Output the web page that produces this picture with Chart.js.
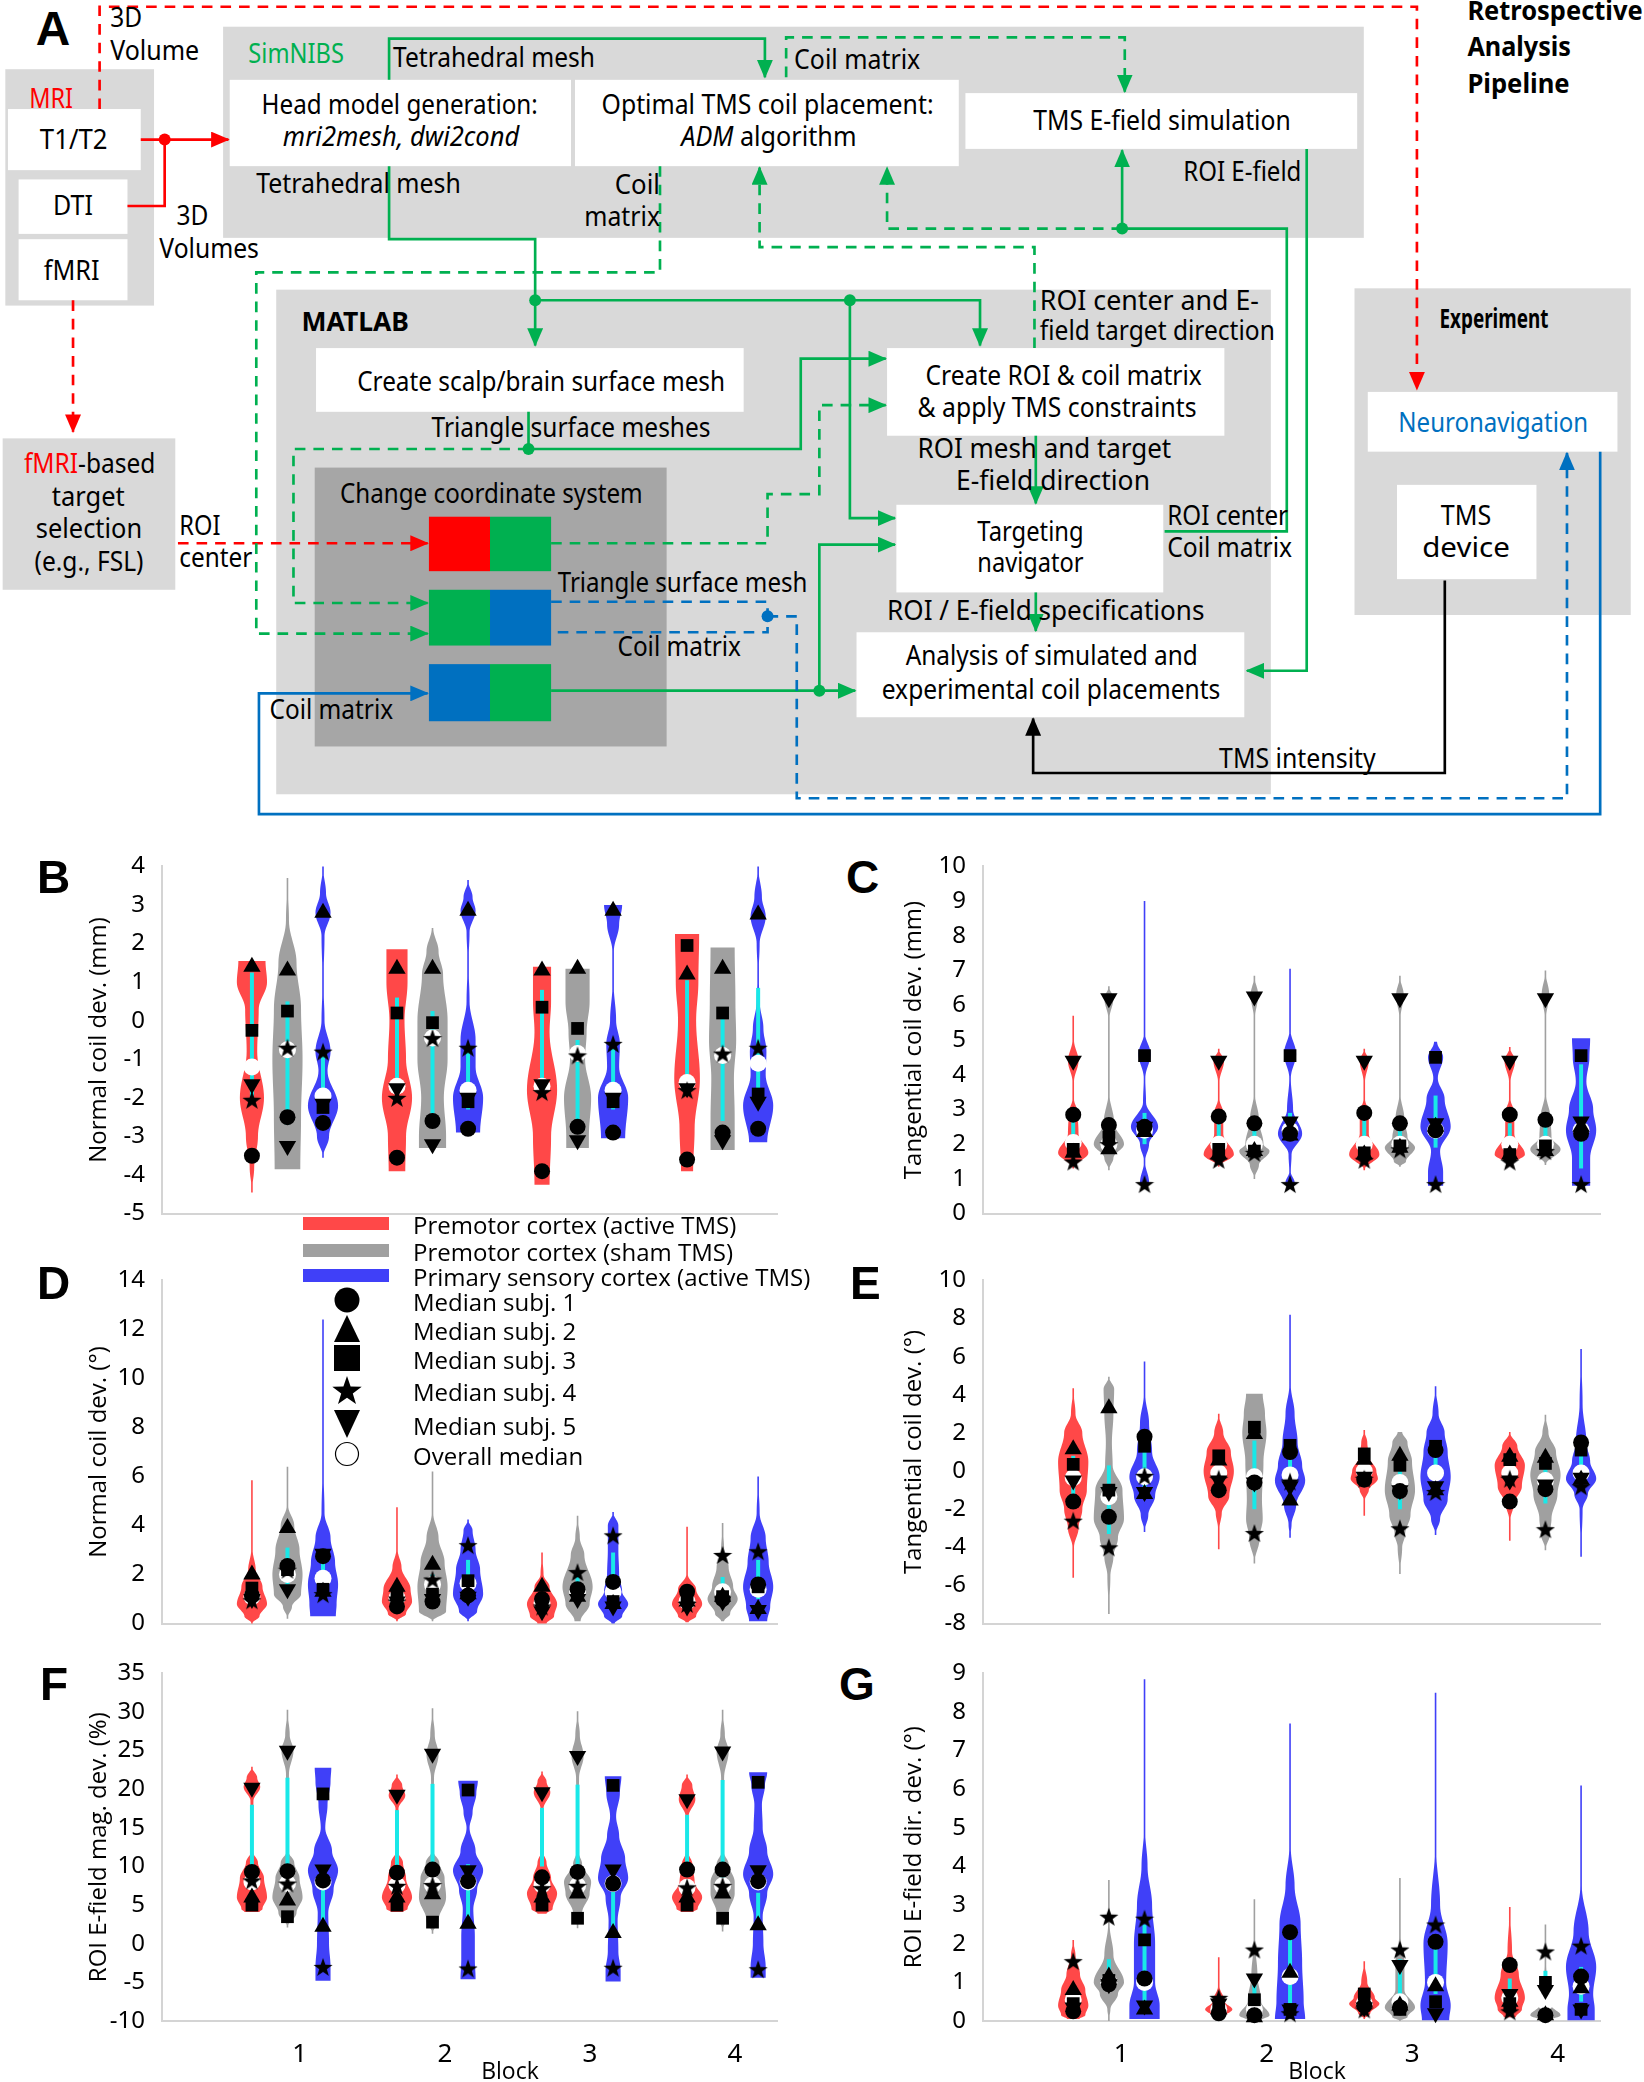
<!DOCTYPE html>
<html>
<head>
<meta charset="utf-8">
<script src="https://cdn.jsdelivr.net/npm/chart.js@4.4.1/dist/chart.umd.min.js"></script>
<style>
body{margin:0;background:#fff;width:1644px;height:2082px;position:relative;overflow:hidden}
canvas.pl{position:absolute}
#flow{position:absolute;left:0;top:0}
.letter{position:absolute;font:bold 46px 'Liberation Sans',sans-serif;line-height:46px;color:#000}
.lt{position:absolute;left:413px;height:30px;line-height:30px;font:24px 'Open Sans',sans-serif;color:#000;white-space:nowrap}
.blk{position:absolute;top:2054px;height:30px;line-height:30px;font:23px 'Open Sans',sans-serif;transform:translateX(-50%)}
#legsym{position:absolute;left:300px;top:1210px}
</style>
</head>
<body>

<svg id="flow" width="1644" height="817" viewBox="0 0 1238 615">
<defs>
<marker id="aR" markerWidth="14" markerHeight="12" refX="13" refY="6" orient="auto" markerUnits="userSpaceOnUse"><path d="M0,0 L14,6 L0,12 z" fill="#ff0000"/></marker>
<marker id="aG" markerWidth="14" markerHeight="12" refX="13" refY="6" orient="auto" markerUnits="userSpaceOnUse"><path d="M0,0 L14,6 L0,12 z" fill="#00b050"/></marker>
<marker id="aB" markerWidth="14" markerHeight="12" refX="13" refY="6" orient="auto" markerUnits="userSpaceOnUse"><path d="M0,0 L14,6 L0,12 z" fill="#0070c0"/></marker>
<marker id="aK" markerWidth="14" markerHeight="12" refX="13" refY="6" orient="auto" markerUnits="userSpaceOnUse"><path d="M0,0 L14,6 L0,12 z" fill="#000"/></marker>
</defs>
<g font-family="'Noto Sans',sans-serif" font-size="20" fill="#000">
<!-- grey containers -->
<rect x="4" y="52" width="112" height="178" fill="#d9d9d9"/>
<rect x="168" y="20" width="859" height="159" fill="#d9d9d9"/>
<rect x="208" y="218" width="749" height="380" fill="#d9d9d9"/>
<rect x="1020" y="217" width="208" height="246" fill="#d9d9d9"/>
<rect x="2" y="330" width="130" height="114" fill="#d9d9d9"/>
<rect x="237" y="352" width="265" height="210" fill="#a6a6a6"/>
<!-- white boxes -->
<rect x="6" y="82" width="100" height="46" fill="#fff"/>
<rect x="14" y="135" width="82" height="41" fill="#fff"/>
<rect x="14" y="180" width="82" height="46" fill="#fff"/>
<rect x="173" y="60" width="257" height="65" fill="#fff"/>
<rect x="433" y="60" width="289" height="65" fill="#fff"/>
<rect x="727" y="70" width="295" height="42" fill="#fff"/>
<rect x="238" y="262" width="322" height="48" fill="#fff"/>
<rect x="668" y="262" width="254" height="66" fill="#fff"/>
<rect x="675" y="380" width="201" height="66" fill="#fff"/>
<rect x="645" y="476" width="292" height="64" fill="#fff"/>
<rect x="1030" y="295" width="188" height="45" fill="#fff"/>
<rect x="1052" y="365" width="105" height="71" fill="#fff"/>
<!-- colour blocks -->
<rect x="323" y="389" width="46" height="41" fill="#ff0000"/><rect x="369" y="389" width="46" height="41" fill="#00b050"/>
<rect x="323" y="444" width="46" height="42" fill="#00b050"/><rect x="369" y="444" width="46" height="42" fill="#0070c0"/>
<rect x="323" y="500" width="46" height="43" fill="#0070c0"/><rect x="369" y="500" width="46" height="43" fill="#00b050"/>

<g fill="none" stroke-width="2">
<!-- red -->
<path d="M75,82 V5 H1067 V293" stroke="#ff0000" stroke-dasharray="8,6" marker-end="url(#aR)"/>
<path d="M106,105 H172" stroke="#ff0000" marker-end="url(#aR)"/>
<path d="M96,155 H124 V105" stroke="#ff0000"/>
<path d="M55,226 V325" stroke="#ff0000" stroke-dasharray="8,6" marker-end="url(#aR)"/>
<path d="M134,409 H322" stroke="#ff0000" stroke-dasharray="8,6" marker-end="url(#aR)"/>
<!-- green solid -->
<g stroke="#00b050">
<path d="M293,60 V29 H576 V58" marker-end="url(#aG)"/>
<path d="M293,125 V180 H403 V260" marker-end="url(#aG)"/>
<path d="M403,226 H738 V260" marker-end="url(#aG)"/>
<path d="M640,226 V390 H674" marker-end="url(#aG)"/>
<path d="M398,310 V338 H603 V270 H667" marker-end="url(#aG)"/>
<path d="M780,328 V379" marker-end="url(#aG)"/>
<path d="M780,446 V475" marker-end="url(#aG)"/>
<path d="M415,520 H644" marker-end="url(#aG)"/>
<path d="M617,520 V410 H674" marker-end="url(#aG)"/>
<path d="M845,172 V113" marker-end="url(#aG)"/>
<path d="M845,172 H969 V400 H877"/>
<path d="M984,112 V505 H939" marker-end="url(#aG)"/>
</g>
<!-- green dashed -->
<g stroke="#00b050" stroke-dasharray="8,6">
<path d="M592,58 V28 H847 V69" marker-end="url(#aG)"/>
<path d="M497,125 V205 H193 V477 H322" marker-end="url(#aG)"/>
<path d="M845,172 H668 V126" marker-end="url(#aG)"/>
<path d="M779,262 V186 H572 V126" marker-end="url(#aG)"/>
<path d="M398,338 H221 V454 H322" marker-end="url(#aG)"/>
<path d="M415,409 H578 V372 H617 V305 H667" marker-end="url(#aG)"/>
</g>
<!-- blue -->
<path d="M415,453 H578 V476 H415" stroke="#0070c0" stroke-dasharray="8,6"/>
<path d="M578,464 H600 V601 H1180 V341" stroke="#0070c0" stroke-dasharray="8,6" marker-end="url(#aB)"/>
<path d="M1205,340 V613 H195 V522 H322" stroke="#0070c0" marker-end="url(#aB)"/>
<!-- black -->
<path d="M1088,437 V582 H778 V541" stroke="#000" marker-end="url(#aK)"/>
</g>
<circle cx="124" cy="105" r="4.5" fill="#ff0000"/>
<g fill="#00b050"><circle cx="403" cy="226" r="4.5"/><circle cx="640" cy="226" r="4.5"/><circle cx="398" cy="338" r="4.5"/><circle cx="617" cy="520" r="4.5"/><circle cx="845" cy="172" r="4.5"/></g>
<circle cx="578" cy="464" r="4.5" fill="#0070c0"/>

<!-- texts -->
<text x="27" y="34" font-family="'Liberation Sans',sans-serif" font-weight="bold" font-size="36">A</text>
<text x="83" y="20" textLength="24" lengthAdjust="spacingAndGlyphs">3D</text>
<text x="83" y="45" textLength="67" lengthAdjust="spacingAndGlyphs">Volume</text>
<text x="22" y="81" fill="#ff0000" textLength="33" lengthAdjust="spacingAndGlyphs">MRI</text>
<text x="30" y="112" textLength="51" lengthAdjust="spacingAndGlyphs">T1/T2</text>
<text x="40" y="162" textLength="30" lengthAdjust="spacingAndGlyphs">DTI</text>
<text x="33" y="211" textLength="42" lengthAdjust="spacingAndGlyphs">fMRI</text>
<text x="133" y="169" textLength="24" lengthAdjust="spacingAndGlyphs">3D</text>
<text x="120" y="194" textLength="75" lengthAdjust="spacingAndGlyphs">Volumes</text>
<text x="187" y="47" fill="#00b050" textLength="72" lengthAdjust="spacingAndGlyphs">SimNIBS</text>
<text x="296" y="50" textLength="152" lengthAdjust="spacingAndGlyphs">Tetrahedral mesh</text>
<text x="598" y="52" textLength="95" lengthAdjust="spacingAndGlyphs">Coil matrix</text>
<text x="197" y="86" textLength="208" lengthAdjust="spacingAndGlyphs">Head model generation:</text>
<text x="213" y="110" font-style="italic" textLength="178" lengthAdjust="spacingAndGlyphs">mri2mesh, dwi2cond</text>
<text x="453" y="86" textLength="250" lengthAdjust="spacingAndGlyphs">Optimal TMS coil placement:</text>
<text x="513" y="110" textLength="132" lengthAdjust="spacingAndGlyphs"><tspan font-style="italic">ADM</tspan> algorithm</text>
<text x="778" y="98" textLength="194" lengthAdjust="spacingAndGlyphs">TMS E-field simulation</text>
<text x="193" y="145" textLength="154" lengthAdjust="spacingAndGlyphs">Tetrahedral mesh</text>
<text x="463" y="146" textLength="34" lengthAdjust="spacingAndGlyphs">Coil</text>
<text x="440" y="170" textLength="57" lengthAdjust="spacingAndGlyphs">matrix</text>
<text x="891" y="136" textLength="89" lengthAdjust="spacingAndGlyphs">ROI E-field</text>
<text x="227" y="249" font-weight="bold" textLength="81" lengthAdjust="spacingAndGlyphs">MATLAB</text>
<text x="783" y="233" textLength="165" lengthAdjust="spacingAndGlyphs">ROI center and E-</text>
<text x="783" y="256" textLength="177" lengthAdjust="spacingAndGlyphs">field target direction</text>
<text x="269" y="294" textLength="277" lengthAdjust="spacingAndGlyphs">Create scalp/brain surface mesh</text>
<text x="697" y="290" textLength="208" lengthAdjust="spacingAndGlyphs">Create ROI &amp; coil matrix</text>
<text x="691" y="314" textLength="210" lengthAdjust="spacingAndGlyphs">&amp; apply TMS constraints</text>
<text x="325" y="329" textLength="210" lengthAdjust="spacingAndGlyphs">Triangle  surface meshes</text>
<text x="256" y="379" textLength="228" lengthAdjust="spacingAndGlyphs">Change coordinate system</text>
<text x="691" y="345" textLength="191" lengthAdjust="spacingAndGlyphs">ROI mesh   and  target</text>
<text x="720" y="369" textLength="146" lengthAdjust="spacingAndGlyphs">E-field   direction</text>
<text x="18" y="356" textLength="99" lengthAdjust="spacingAndGlyphs"><tspan fill="#ff0000">fMRI</tspan>-based</text>
<text x="39" y="381" textLength="55" lengthAdjust="spacingAndGlyphs">target</text>
<text x="27" y="405" textLength="80" lengthAdjust="spacingAndGlyphs">selection</text>
<text x="26" y="430" textLength="82" lengthAdjust="spacingAndGlyphs">(e.g., FSL)</text>
<text x="135" y="403" textLength="31" lengthAdjust="spacingAndGlyphs">ROI</text>
<text x="135" y="427" textLength="55" lengthAdjust="spacingAndGlyphs">center</text>
<text x="736" y="407" textLength="80" lengthAdjust="spacingAndGlyphs">Targeting</text>
<text x="736" y="431" textLength="80" lengthAdjust="spacingAndGlyphs">navigator</text>
<text x="879" y="395" textLength="91" lengthAdjust="spacingAndGlyphs">ROI center</text>
<text x="879" y="419" textLength="94" lengthAdjust="spacingAndGlyphs">Coil matrix</text>
<text x="420" y="446" textLength="188" lengthAdjust="spacingAndGlyphs">Triangle surface mesh</text>
<text x="465" y="494" textLength="93" lengthAdjust="spacingAndGlyphs">Coil matrix</text>
<text x="668" y="467" textLength="239" lengthAdjust="spacingAndGlyphs">ROI / E-field   specifications</text>
<text x="682" y="501" textLength="220" lengthAdjust="spacingAndGlyphs">Analysis of simulated and</text>
<text x="664" y="526" textLength="255" lengthAdjust="spacingAndGlyphs">experimental coil placements</text>
<text x="203" y="541" textLength="93" lengthAdjust="spacingAndGlyphs">Coil matrix</text>
<text x="918" y="578" textLength="118" lengthAdjust="spacingAndGlyphs">TMS intensity</text>
<text x="1084" y="247" font-weight="bold" textLength="82" lengthAdjust="spacingAndGlyphs">Experiment</text>
<text x="1053" y="325" fill="#0070c0" textLength="143" lengthAdjust="spacingAndGlyphs">Neuronavigation</text>
<text x="1085" y="395" textLength="38" lengthAdjust="spacingAndGlyphs">TMS</text>
<text x="1071" y="419" textLength="66" lengthAdjust="spacingAndGlyphs">device</text>
<text x="1105" y="15" font-weight="bold" textLength="132" lengthAdjust="spacingAndGlyphs">Retrospective</text>
<text x="1105" y="42" font-weight="bold" textLength="78" lengthAdjust="spacingAndGlyphs">Analysis</text>
<text x="1105" y="70" font-weight="bold" textLength="77" lengthAdjust="spacingAndGlyphs">Pipeline</text>
</g>
</svg>

<canvas class="pl" id="cB" width="740" height="394" style="left:60px;top:843px"></canvas>
<canvas class="pl" id="cC" width="764" height="394" style="left:880px;top:843px"></canvas>
<canvas class="pl" id="cD" width="740" height="390" style="left:60px;top:1257px"></canvas>
<canvas class="pl" id="cE" width="764" height="390" style="left:880px;top:1257px"></canvas>
<canvas class="pl" id="cF" width="740" height="433" style="left:60px;top:1650px"></canvas>
<canvas class="pl" id="cG" width="764" height="433" style="left:880px;top:1650px"></canvas>

<div class="letter" style="left:37px;top:854px">B</div>
<div class="letter" style="left:846px;top:854px">C</div>
<div class="letter" style="left:37px;top:1260px">D</div>
<div class="letter" style="left:850px;top:1260px">E</div>
<div class="letter" style="left:40px;top:1661px">F</div>
<div class="letter" style="left:839px;top:1661px">G</div>
<div class="blk" style="left:510px">Block</div>
<div class="blk" style="left:1317px">Block</div>

<svg id="legsym" width="100" height="262">
<rect x="3" y="7" width="86" height="13" fill="#ff4848"/>
<rect x="3" y="34" width="86" height="13" fill="#a0a0a0"/>
<rect x="3" y="59" width="86" height="13" fill="#4040f8"/>
<circle cx="47" cy="90" r="12.5" fill="#000"/>
<path d="M47,105 L60,132 L34,132 z" fill="#000"/>
<rect x="34" y="135" width="26" height="26" fill="#000"/>
<path d="M47,166 L50.6,176.5 L61.7,176.7 L52.8,183.4 L56,194 L47,187.7 L38,194 L41.2,183.4 L32.3,176.7 L43.4,176.5 z" fill="#000"/>
<path d="M34,200 L60,200 L47,228 z" fill="#000"/>
<circle cx="47" cy="244" r="11.5" fill="#fff" stroke="#000" stroke-width="1.2"/>
</svg>
<div class="lt" style="top:1208px">Premotor cortex (active TMS)</div>
<div class="lt" style="top:1235px">Premotor cortex (sham TMS)</div>
<div class="lt" style="top:1260px">Primary sensory cortex (active TMS)</div>
<div class="lt" style="top:1285px">Median subj. 1</div>
<div class="lt" style="top:1314px">Median subj. 2</div>
<div class="lt" style="top:1343px">Median subj. 3</div>
<div class="lt" style="top:1375px">Median subj. 4</div>
<div class="lt" style="top:1409px">Median subj. 5</div>
<div class="lt" style="top:1439px">Overall median</div>

<script>
// block positions and group layout
const blocks = [1, 2, 3, 4];
const groupNames = ['Premotor cortex (active TMS)', 'Premotor cortex (sham TMS)', 'Primary sensory cortex (active TMS)'];
const groupColors = ['#ff4848', '#a0a0a0', '#4040f8'];
const groupOffset = [-0.33, -0.085, 0.16];
const violinHalf = 0.104;

// every array below: [red groups b1..b4], [gray], [blue]
// ---- B : normal coil dev. (mm)
const bCircle = [[-3.5, -3.55, -3.9, -3.6], [-2.5, -2.6, -2.75, -2.9], [-2.65, -2.8, -2.9, -2.8]];
const bTriangle = [[1.4, 1.35, 1.3, 1.2], [1.3, 1.35, 1.35, 1.35], [2.8, 2.85, 2.85, 2.75]];
const bSquare = [[-0.25, 0.2, 0.35, 1.95], [0.25, -0.05, -0.2, 0.2], [-2.25, -2.1, -2.1, -1.9]];
const bStar = [[-2.05, -2.0, -1.85, -1.8], [-0.7, -0.45, -0.9, -0.85], [-0.8, -0.7, -0.6, -0.7]];
const bDown = [[-1.65, -1.75, -1.65, -1.75], [-3.25, -3.2, -3.1, -3.1], [-2.15, -2.0, -2.0, -2.1]];
const bMedian = [[-1.2, -1.7, -1.7, -1.6], [-0.75, -0.45, -0.85, -0.9], [-1.95, -1.8, -1.8, -1.1]];
const bBox = [[[-2.1, 1.25], [-2.1, 0.6], [-1.9, 0.8], [-1.7, 1.05]], [[-2.7, 0.5], [-2.4, 0.25], [-2.6, -0.5], [-2.6, 0.2]], [[-2.4, -0.9], [-2.3, -0.6], [-2.3, -0.7], [-1.9, 0.85]]];
const bShape = [
  [[[1.55, 0.9], [1.0, 1.0], [0.3, 0.45], [-0.8, 0.35], [-2.0, 0.8], [-3.0, 0.4], [-3.8, 0.15], [-4.45, 0]],
   [[1.85, 0.7], [1.0, 0.7], [0, 0.5], [-1.0, 0.6], [-2.0, 1.0], [-3.0, 0.6], [-3.9, 0.55]],
   [[1.4, 0.6], [0.5, 0.6], [-0.3, 0.5], [-1.8, 1.0], [-3.0, 0.6], [-4.25, 0.5]],
   [[2.25, 0.8], [1.0, 0.75], [0, 0.6], [-1.5, 0.85], [-2.8, 0.5], [-3.9, 0.4]]],
  [[[3.7, 0], [2.6, 0.1], [1.5, 0.6], [0.3, 0.9], [-1.0, 1.0], [-2.5, 0.9], [-3.85, 0.85]],
   [[2.4, 0.05], [1.8, 0.4], [1.2, 0.7], [0, 1.0], [-1.0, 1.0], [-2.0, 0.75], [-3.0, 0.9], [-3.3, 0.9]],
   [[1.35, 0.8], [0.5, 0.8], [-0.3, 0.6], [-1.0, 0.5], [-2.0, 0.9], [-3.0, 0.75], [-3.3, 0.75]],
   [[1.9, 0.8], [0.5, 0.85], [-0.5, 0.9], [-1.5, 0.75], [-2.5, 0.8], [-3.35, 0.8]]],
  [[[4.0, 0], [3.3, 0.2], [2.8, 0.5], [2.2, 0.1], [1.0, 0.03], [0, 0.1], [-0.8, 0.5], [-1.3, 0.3], [-2.2, 1.0], [-3.0, 0.4], [-3.55, 0]],
   [[3.65, 0], [3.2, 0.3], [2.85, 0.5], [2.3, 0.1], [1.5, 0.03], [0.5, 0.1], [-0.5, 0.5], [-1.2, 0.5], [-2.0, 1.0], [-2.9, 0.8]],
   [[3.0, 0.6], [2.5, 0.4], [1.8, 0.05], [1.0, 0.03], [0, 0.2], [-0.6, 0.45], [-1.2, 0.4], [-2.0, 1.0], [-3.05, 0.8]],
   [[4.0, 0], [3.2, 0.25], [2.7, 0.5], [2.0, 0.1], [1.2, 0.03], [0.5, 0.1], [-0.2, 0.35], [-0.8, 0.55], [-1.4, 0.5], [-2.2, 1.0], [-3.15, 0.6]]]
];

// ---- C : tangential coil dev. (mm)
const cCircle = [[2.85, 2.8, 2.9, 2.85], [2.55, 2.6, 2.6, 2.7], [2.5, 2.3, 2.4, 2.3]];
const cTriangle = [[1.75, 1.7, 1.7, 1.7], [1.85, 1.8, 1.9, 1.8], [2.35, 2.25, 2.5, 2.5]];
const cSquare = [[1.85, 1.85, 1.75, 1.7], [2.2, 1.8, 1.95, 1.95], [4.55, 4.55, 4.5, 4.55]];
const cStar = [[1.5, 1.55, 1.55, 1.5], [2.0, 1.75, 1.85, 1.8], [0.85, 0.85, 0.85, 0.85]];
const cDown = [[4.4, 4.4, 4.4, 4.4], [6.2, 6.25, 6.2, 6.2], [2.5, 2.65, 2.6, 2.65]];
const cMedian = [[2.05, 2.0, 2.0, 2.0], [2.0, 2.0, 2.0, 2.0], [2.4, 2.4, 2.4, 2.4]];
const cBox = [[[1.9, 2.7], [1.9, 2.6], [1.9, 2.7], [1.9, 2.6]], [[1.9, 2.4], [1.9, 2.4], [1.9, 2.4], [1.9, 2.5]], [[2.0, 2.9], [2.1, 2.9], [1.9, 3.4], [1.3, 4.3]]];
const cShape = [
  [[[5.7, 0], [5.0, 0.05], [4.4, 0.35], [3.8, 0.05], [3.3, 0.05], [2.9, 0.3], [2.3, 0.35], [1.75, 1.0], [1.3, 0]],
   [[4.75, 0], [4.4, 0.35], [3.8, 0.05], [3.3, 0.05], [2.9, 0.3], [2.3, 0.3], [1.7, 1.0], [1.35, 0]],
   [[4.75, 0], [4.4, 0.3], [3.8, 0.05], [3.3, 0.05], [2.9, 0.3], [2.3, 0.3], [1.7, 1.0], [1.25, 0]],
   [[4.8, 0], [4.4, 0.35], [3.8, 0.05], [3.3, 0.05], [2.9, 0.3], [2.3, 0.3], [1.7, 1.0], [1.4, 0]]],
  [[[6.55, 0], [6.2, 0.3], [5.6, 0.03], [3.5, 0.02], [2.6, 0.35], [2.0, 1.0], [1.6, 0.3], [1.25, 0]],
   [[6.85, 0], [6.3, 0.25], [5.6, 0.03], [3.5, 0.02], [2.7, 0.3], [2.0, 0.6], [1.8, 1.0], [1.4, 0.3], [1.0, 0]],
   [[6.85, 0], [6.3, 0.25], [5.6, 0.03], [3.5, 0.02], [2.7, 0.3], [2.2, 0.5], [1.9, 1.0], [1.5, 0.4], [1.35, 0]],
   [[7.0, 0], [6.3, 0.25], [5.6, 0.03], [3.5, 0.02], [2.7, 0.35], [2.2, 0.4], [1.85, 1.0], [1.4, 0]]],
  [[[9.0, 0], [5.2, 0.03], [4.6, 0.4], [3.9, 0.05], [3.2, 0.1], [2.5, 0.9], [2.0, 0.3], [1.5, 0.03], [0.9, 0.3], [0.8, 0.2]],
   [[7.05, 0], [5.3, 0.03], [4.6, 0.4], [3.9, 0.05], [3.0, 0.2], [2.3, 0.8], [1.7, 0.1], [1.2, 0.05], [0.9, 0.3], [0.8, 0.25]],
   [[4.95, 0.1], [4.5, 0.5], [3.9, 0.15], [3.3, 0.6], [2.5, 1.0], [1.8, 0.3], [1.2, 0.5], [0.8, 0.5]],
   [[5.05, 0.6], [4.5, 0.55], [3.8, 0.35], [3.0, 0.8], [2.4, 1.0], [1.6, 0.6], [0.8, 0.6]]]
];

// ---- D : normal coil dev. (deg)
const dCircle = [[1.15, 0.7, 1.0, 1.3], [2.35, 0.9, 1.4, 1.0], [2.75, 1.15, 1.7, 1.6]];
const dTriangle = [[2.0, 1.5, 1.5, 0.9], [3.9, 2.4, 1.1, 1.1], [1.3, 1.2, 0.8, 0.6]];
const dSquare = [[1.45, 1.2, 0.8, 1.0], [2.2, 1.2, 1.3, 1.1], [1.4, 1.75, 0.9, 1.5]];
const dStar = [[0.95, 0.9, 0.7, 0.8], [2.2, 1.8, 2.1, 2.8], [1.2, 3.2, 3.6, 2.95]];
const dDown = [[1.0, 0.9, 0.5, 0.7], [1.4, 1.0, 1.0, 0.9], [2.85, 1.1, 0.7, 0.55]];
const dMedian = [[1.1, 1.05, 0.85, 0.9], [2.0, 1.6, 1.3, 1.3], [1.85, 1.65, 1.3, 1.4]];
const dBox = [[[0.8, 1.7], [0.8, 1.4], [0.6, 1.2], [0.6, 1.2]], [[1.6, 3.1], [1.2, 2.0], [1.0, 2.0], [1.0, 1.9]], [[1.5, 2.5], [1.4, 2.6], [1.4, 2.9], [1.0, 2.6]]];
const dShape = [
  [[[5.85, 0], [3.0, 0.05], [2.2, 0.25], [1.5, 0.7], [0.8, 1.0], [0.3, 0.5], [0, 0]],
   [[4.75, 0], [3.0, 0.05], [2.3, 0.3], [1.4, 0.9], [0.9, 1.0], [0.4, 0.6], [0.1, 0]],
   [[2.9, 0], [2.0, 0.1], [1.5, 0.5], [0.8, 1.0], [0.3, 0.8], [0, 0.3]],
   [[3.95, 0], [2.0, 0.05], [1.4, 0.6], [0.8, 1.0], [0.3, 0.6], [0.05, 0.1]]],
  [[[6.4, 0], [4.8, 0.05], [4.0, 0.45], [3.0, 0.8], [2.0, 1.0], [1.2, 0.9], [0.7, 0.3], [0.2, 0]],
   [[6.2, 0], [4.5, 0.05], [3.5, 0.4], [2.5, 0.8], [1.5, 1.0], [0.5, 0.9], [0.1, 0]],
   [[4.4, 0], [3.5, 0.15], [2.8, 0.45], [1.5, 1.0], [0.8, 0.8], [0.1, 0.2]],
   [[4.1, 0], [3.0, 0.1], [2.3, 0.4], [1.5, 0.7], [1.0, 1.0], [0.4, 0.5], [0.1, 0.1]]],
  [[[12.4, 0], [6.6, 0.02], [4.5, 0.1], [3.5, 0.5], [2.5, 0.8], [1.6, 1.0], [0.8, 0.9], [0.3, 0.85]],
   [[4.25, 0], [3.8, 0.3], [3.0, 0.5], [2.2, 0.8], [1.2, 1.0], [0.5, 0.6], [0.1, 0]],
   [[4.55, 0], [4.0, 0.35], [3.0, 0.35], [2.0, 0.4], [1.3, 0.6], [0.8, 1.0], [0.3, 0.6], [0, 0.1]],
   [[6.0, 0], [4.5, 0.1], [3.5, 0.5], [2.5, 0.7], [1.5, 1.0], [0.7, 0.8], [0.1, 0.6]]]
];

// ---- E : tangential coil dev. (deg)
const eCircle = [[-1.6, -1.0, -0.45, -1.6], [-2.4, -0.6, -1.05, -0.95], [1.8, 1.0, 1.1, 1.5]];
const eTriangle = [[1.15, 0.55, 0.6, 0.75], [3.3, 1.95, 0.8, 0.7], [-1.2, -1.55, -1.0, -0.45]];
const eSquare = [[0.35, 0.8, 0.9, 0.6], [-1.0, 2.3, 0.3, 0.4], [1.3, 1.35, 1.3, 1.1]];
const eStar = [[-2.6, -0.4, -0.4, -0.4], [-4.0, -3.25, -3.0, -3.05], [-0.25, -0.55, -1.1, -0.8]];
const eDown = [[-0.5, -0.5, -0.3, -0.5], [-1.1, -0.6, -1.0, -0.7], [-1.1, -0.8, -0.8, -0.35]];
const eMedian = [[-0.35, -0.1, 0.0, -0.1], [-1.35, -0.3, -0.6, -0.5], [-0.3, -0.2, -0.1, -0.1]];
const eBox = [[[-1.2, 0.8], [-0.6, 0.5], [-0.2, 0.3], [-0.4, 0.6]], [[-3.3, 0.3], [-2.0, 1.6], [-2.0, 0.0], [-1.7, 0.3]], [[-0.9, 1.0], [-0.8, 0.6], [-0.5, 0.7], [-0.3, 0.8]]];
const eShape = [
  [[[4.35, 0], [3.0, 0.15], [2.0, 0.6], [0.5, 1.0], [-1.0, 0.9], [-2.0, 0.6], [-3.0, 0.35], [-4.0, 0.05], [-5.6, 0]],
   [[3.0, 0], [2.0, 0.3], [1.0, 0.8], [0, 1.0], [-1.3, 0.7], [-2.2, 0.2], [-3.0, 0.05], [-4.1, 0]],
   [[2.15, 0], [1.5, 0.2], [0.8, 0.3], [0, 0.8], [-0.4, 0.9], [-1.0, 0.3], [-1.5, 0.05], [-2.35, 0]],
   [[2.05, 0], [1.3, 0.5], [0.3, 1.0], [-0.8, 0.8], [-1.8, 0.25], [-2.5, 0.05], [-3.65, 0]]],
  [[[4.95, 0], [4.3, 0.35], [3.0, 0.3], [1.5, 0.2], [0.3, 0.25], [-1.0, 0.9], [-2.5, 1.0], [-3.5, 0.6], [-4.5, 0.3], [-5.5, 0.1], [-7.5, 0]],
   [[4.05, 0.55], [3.0, 0.7], [2.0, 0.8], [0.5, 0.6], [-1.5, 0.5], [-2.5, 0.55], [-3.5, 0.35], [-4.85, 0]],
   [[2.05, 0.15], [1.5, 0.5], [0.5, 0.8], [-1.0, 1.0], [-2.3, 0.7], [-3.3, 0.35], [-4.0, 0.15], [-5.4, 0]],
   [[2.95, 0], [2.0, 0.2], [1.0, 0.7], [-0.2, 1.0], [-1.2, 0.8], [-2.5, 0.4], [-3.3, 0.3], [-4.15, 0]]],
  [[[5.75, 0], [4.0, 0.05], [2.5, 0.3], [1.0, 0.5], [-0.3, 1.0], [-1.3, 0.7], [-2.3, 0.25], [-3.2, 0]],
   [[8.2, 0], [4.5, 0.05], [3.0, 0.3], [1.5, 0.5], [0.3, 0.8], [-0.5, 1.0], [-1.8, 0.4], [-2.8, 0.1], [-3.5, 0]],
   [[4.45, 0], [3.0, 0.2], [2.0, 0.6], [1.0, 0.8], [-0.3, 1.0], [-1.5, 0.8], [-2.5, 0.3], [-3.35, 0]],
   [[6.4, 0], [3.5, 0.1], [1.5, 0.35], [0.5, 0.6], [-0.4, 1.0], [-1.2, 0.45], [-2.0, 0.1], [-4.5, 0]]]
];

// ---- F : ROI E-field magnitude dev. (%)
const fCircle = [[9.3, 9.2, 8.6, 9.6], [9.4, 9.6, 9.3, 9.6], [8.2, 8.1, 7.8, 8.1]];
const fTriangle = [[6.0, 6.0, 6.0, 6.0], [5.6, 6.4, 6.5, 6.5], [2.2, 2.6, 1.4, 2.4]];
const fSquare = [[5.0, 5.0, 5.0, 5.0], [3.5, 2.8, 3.3, 3.3], [19.4, 19.9, 20.5, 20.9]];
const fStar = [[8.2, 7.5, 7.2, 7.3], [7.8, 7.6, 7.5, 7.5], [-3.0, -3.2, -3.1, -3.3]];
const fDown = [[20.2, 19.3, 19.6, 18.7], [25.0, 24.6, 24.3, 24.9], [9.6, 9.5, 9.6, 9.5]];
const fMedian = [[8.0, 7.6, 7.6, 7.3], [7.8, 7.6, 7.5, 7.5], [8.0, 8.0, 7.8, 8.0]];
const fBox = [[[10, 18], [10, 17.3], [10, 17.6], [10, 16.7]], [[7, 21.5], [8, 20.7], [9, 20.6], [8, 21.2]], [[2, 7], [3.5, 10.3], [1.4, 6.7], [2.4, 6.6]]];
const fShape = [
  [[[22.9, 0], [21.5, 0.35], [20.3, 0.55], [18.5, 0.1], [15, 0.03], [12, 0.05], [10.5, 0.4], [8.5, 0.8], [6, 1.0], [4.5, 0.7], [4.1, 0.5]],
   [[21.9, 0], [20.5, 0.35], [19.2, 0.55], [17.5, 0.1], [14, 0.03], [12, 0.05], [10.5, 0.4], [8.5, 0.6], [6, 1.0], [4.5, 0.7], [4.1, 0.4]],
   [[22.3, 0], [21, 0.3], [19.6, 0.55], [17.5, 0.1], [14, 0.03], [12, 0.05], [10.5, 0.3], [8.5, 0.6], [6.5, 1.0], [4.5, 0.7], [3.9, 0.3]],
   [[21.9, 0], [20.5, 0.35], [18.7, 0.55], [16.5, 0.1], [14, 0.03], [12, 0.05], [10.3, 0.35], [8, 0.5], [6, 1.0], [4.5, 0.7], [4.1, 0.4]]],
  [[[30.3, 0], [27, 0.15], [25, 0.4], [22, 0.1], [18, 0.03], [12, 0.05], [10.5, 0.45], [8.5, 0.8], [6, 1.0], [4, 0.6], [2.1, 0]],
   [[30.5, 0], [27, 0.15], [24.5, 0.4], [21.5, 0.1], [17, 0.03], [12, 0.05], [10.5, 0.45], [8.5, 0.8], [6, 0.9], [3, 0.4], [1.3, 0]],
   [[30.1, 0], [27, 0.15], [24.3, 0.4], [21.5, 0.1], [17, 0.03], [12, 0.05], [10.3, 0.3], [8, 0.9], [6.5, 0.8], [4, 0.3], [2.0, 0]],
   [[30.3, 0], [27, 0.15], [24.9, 0.4], [21.5, 0.1], [17, 0.03], [12, 0.05], [10.3, 0.4], [8, 0.8], [6.5, 0.8], [4, 0.4], [1.6, 0]]],
  [[[22.8, 0.55], [21, 0.5], [18, 0.3], [15, 0.15], [12, 0.6], [9.5, 1.0], [7, 0.7], [4, 0.35], [0, 0.4], [-3, 0.5], [-4.8, 0.5]],
   [[21.1, 0.65], [19.5, 0.55], [17, 0.3], [15, 0.1], [12, 0.5], [9.5, 1.0], [7, 0.6], [4.5, 0.35], [1, 0.45], [-2, 0.45], [-4.6, 0.5]],
   [[21.7, 0.55], [19.5, 0.45], [16.5, 0.2], [14, 0.4], [11, 0.8], [8.5, 1.0], [6, 0.5], [3, 0.3], [-1, 0.35], [-3.5, 0.5], [-4.9, 0.5]],
   [[22.2, 0.6], [20.5, 0.45], [18, 0.25], [15, 0.3], [12, 0.6], [9, 1.0], [6.5, 0.6], [3.5, 0.3], [0, 0.35], [-3, 0.5], [-4.4, 0.5]]]
];

// ---- G : ROI E-field direction dev. (deg)
const gCircle = [[0.25, 0.2, 0.4, 1.45], [0.95, 0.15, 0.35, 0.15], [1.1, 2.3, 2.05, 1.15]];
const gTriangle = [[0.8, 0.3, 0.5, 0.5], [1.15, 0.1, 0.4, 0.15], [0.3, 1.25, 0.9, 0.85]];
const gSquare = [[0.45, 0.3, 0.7, 0.45], [1.05, 0.55, 0.3, 1.0], [2.1, 0.3, 0.5, 0.3]];
const gStar = [[1.55, 0.6, 0.3, 0.25], [2.7, 1.85, 1.85, 1.8], [2.65, 0.2, 2.5, 1.95]];
const gDown = [[0.35, 0.45, 0.35, 0.7], [0.95, 1.1, 1.45, 0.8], [0.4, 0.3, 0.2, 0.3]];
const gMedian = [[0.55, 0.3, 0.45, 0.6], [1.0, 0.3, 0.5, 0.5], [1.0, 1.15, 1.0, 0.9]];
const gBox = [[[0.4, 0.8], [0.2, 0.4], [0.3, 0.6], [0.5, 1.1]], [[0.8, 1.6], [0.6, 1.2], [0.6, 1.6], [0.4, 1.3]], [[0.5, 2.5], [0.4, 2.2], [0.7, 2.0], [0.5, 1.4]]];
const gShape = [
  [[[2.1, 0], [1.7, 0.15], [1.2, 0.45], [0.8, 0.8], [0.4, 1.0], [0.15, 0.8], [0.05, 0.4]],
   [[1.65, 0], [0.9, 0.05], [0.5, 0.4], [0.3, 0.9], [0.1, 0.3], [0.05, 0]],
   [[1.55, 0], [1.0, 0.2], [0.6, 0.7], [0.45, 1.0], [0.2, 0.4], [0.05, 0]],
   [[2.95, 0], [1.8, 0.15], [1.2, 0.6], [0.6, 1.0], [0.3, 0.8], [0.1, 0.4]]],
  [[[3.65, 0], [2.5, 0.05], [1.7, 0.3], [1.0, 1.0], [0.7, 0.6], [0.3, 0.1], [0, 0]],
   [[3.15, 0], [2.0, 0.05], [1.2, 0.2], [0.5, 0.45], [0.15, 1.0], [0, 0.4]],
   [[3.7, 0], [2.2, 0.05], [1.5, 0.3], [0.8, 0.3], [0.35, 1.0], [0.1, 0.5], [0, 0]],
   [[2.5, 0], [1.5, 0.05], [1.0, 0.1], [0.4, 0.4], [0.15, 1.0], [0, 0.2]]],
  [[[8.85, 0], [5, 0.03], [4, 0.2], [3, 0.5], [2, 0.7], [1, 0.7], [0.4, 1.0], [0.05, 1.0]],
   [[7.7, 0], [4.5, 0.05], [3.5, 0.3], [2.5, 0.7], [1.5, 0.8], [0.5, 0.9], [0.05, 1.0]],
   [[8.5, 0], [4.5, 0.03], [3, 0.3], [2, 0.8], [1, 0.7], [0.4, 1.0], [0.02, 0.9]],
   [[6.1, 0], [3.5, 0.05], [2.3, 0.5], [1.4, 1.0], [0.7, 0.8], [0.3, 0.9], [0.02, 0.9]]]
];

Chart.defaults.font.family = "'Noto Sans', sans-serif";
Chart.defaults.color = '#000';

function starImage(size) {
  const c = document.createElement('canvas');
  c.width = c.height = size;
  const g = c.getContext('2d');
  g.beginPath();
  for (let i = 0; i < 10; i++) {
    const r = i % 2 ? size * 0.2 : size * 0.5;
    const a = -Math.PI / 2 + i * Math.PI / 5;
    g.lineTo(size / 2 + r * Math.cos(a), size / 2 + size * 0.05 + r * Math.sin(a));
  }
  g.closePath();
  g.fillStyle = '#000';
  g.fill();
  return c;
}
const star = starImage(20);

function points(vals) {
  const out = [];
  vals.forEach((row, g) => row.forEach((v, b) => out.push({x: blocks[b] + groupOffset[g], y: v})));
  return out;
}

// violins + cyan bars, drawn under the markers
function violinLayer(shape, box) {
  return {
    id: 'violins',
    beforeDatasetsDraw(chart) {
      const {ctx, scales: {x, y}} = chart;
      ctx.save();
      shape.forEach((row, g) => row.forEach((knots, b) => {
        const cx = blocks[b] + groupOffset[g];
        const px = x.getPixelForValue(cx);
        const unit = x.getPixelForValue(cx + violinHalf) - px;
        const side = [];
        for (let i = 0; i < knots.length - 1; i++) {
          const [y0, w0] = knots[i], [y1, w1] = knots[i + 1];
          for (let s = 0; s < 12; s++) {
            const t = s / 12, e = (1 - Math.cos(Math.PI * t)) / 2;
            side.push([y.getPixelForValue(y0 + (y1 - y0) * t), Math.max(0.8, (w0 + (w1 - w0) * e) * unit)]);
          }
        }
        const last = knots[knots.length - 1];
        side.push([y.getPixelForValue(last[0]), Math.max(0.8, last[1] * unit)]);
        ctx.beginPath();
        side.forEach(([py, hw], i) => i ? ctx.lineTo(px + hw, py) : ctx.moveTo(px + hw, py));
        for (let i = side.length - 1; i >= 0; i--) ctx.lineTo(px - side[i][1], side[i][0]);
        ctx.closePath();
        ctx.fillStyle = groupColors[g];
        ctx.fill();
        const [lo, hi] = box[g][b];
        ctx.beginPath();
        ctx.moveTo(px, y.getPixelForValue(lo));
        ctx.lineTo(px, y.getPixelForValue(hi));
        ctx.strokeStyle = '#19e8e8';
        ctx.lineWidth = 4;
        ctx.stroke();
      }));
      ctx.restore();
    }
  };
}

function makePanel(id, o) {
  const styles = [
    {label: 'Median subj. 1', data: o.circle, pointStyle: 'circle', pointRadius: 8},
    {label: 'Median subj. 2', data: o.triangle, pointStyle: 'triangle', pointRadius: 10},
    {label: 'Median subj. 3', data: o.square, pointStyle: 'rect', pointRadius: 9},
    {label: 'Median subj. 4', data: o.star, pointStyle: star, pointRadius: 10},
    {label: 'Median subj. 5', data: o.down, pointStyle: 'triangle', pointRadius: 10, pointRotation: 180}
  ];
  const datasets = styles.map(s => ({
    label: s.label, data: points(s.data), pointStyle: s.pointStyle, pointRadius: s.pointRadius,
    pointRotation: s.pointRotation || 0, backgroundColor: '#000', borderColor: '#000', borderWidth: 0,
    showLine: false, clip: false
  }));
  datasets.push({label: 'Overall median', data: points(o.median), pointStyle: 'circle', pointRadius: 8.5,
    backgroundColor: '#fff', borderColor: '#fff', borderWidth: 0, showLine: false, clip: false});

  new Chart(document.getElementById(id), {
    type: 'scatter',
    data: {datasets},
    plugins: [violinLayer(o.shape, o.box)],
    options: {
      responsive: false, animation: false, devicePixelRatio: 1,
      layout: {padding: {left: 0, top: o.padTop, right: o.padRight, bottom: o.padBottom}},
      plugins: {legend: {display: false}, tooltip: {enabled: false}},
      scales: {
        x: {
          type: 'linear', min: 0.05, max: 4.29,
          grid: {display: false},
          border: {display: true, color: '#d4d4d4', width: 2},
          ticks: {display: o.showX, font: {size: 26}, padding: 10},
          afterBuildTicks: s => { s.ticks = blocks.map(v => ({value: v})); },
          afterFit: s => { s.height = o.xHeight; }
        },
        y: {
          min: o.yMin, max: o.yMax,
          grid: {display: false},
          border: {display: true, color: '#d4d4d4', width: 2},
          ticks: {stepSize: o.yStep, font: {size: 24}, padding: 9},
          title: {display: true, text: o.title, font: {family: "'Open Sans', sans-serif", size: 24}, padding: {top: o.titlePad, bottom: 0}},
          afterFit: s => { s.width = o.axisW; }
        }
      }
    }
  });
}

const leftCol = {axisW: 102, padRight: 23, titlePad: 25};
const rightCol = {axisW: 103, padRight: 44, titlePad: 20};
const row1 = {padTop: 20, padBottom: 19, xHeight: 0, showX: false};
const row2 = {padTop: 20, padBottom: 19, xHeight: 0, showX: false};
const row3 = {padTop: 22, padBottom: 0, xHeight: 62, showX: true};

makePanel('cB', {...leftCol, ...row1, yMin: -5, yMax: 4, yStep: 1, title: 'Normal coil dev. (mm)',
  circle: bCircle, triangle: bTriangle, square: bSquare, star: bStar, down: bDown, median: bMedian, box: bBox, shape: bShape});
makePanel('cC', {...rightCol, ...row1, yMin: 0, yMax: 10, yStep: 1, title: 'Tangential coil dev. (mm)',
  circle: cCircle, triangle: cTriangle, square: cSquare, star: cStar, down: cDown, median: cMedian, box: cBox, shape: cShape});
makePanel('cD', {...leftCol, ...row2, yMin: 0, yMax: 14, yStep: 2, title: 'Normal coil dev. (°)',
  circle: dCircle, triangle: dTriangle, square: dSquare, star: dStar, down: dDown, median: dMedian, box: dBox, shape: dShape});
makePanel('cE', {...rightCol, ...row2, yMin: -8, yMax: 10, yStep: 2, title: 'Tangential coil dev. (°)',
  circle: eCircle, triangle: eTriangle, square: eSquare, star: eStar, down: eDown, median: eMedian, box: eBox, shape: eShape});
makePanel('cF', {...leftCol, ...row3, yMin: -10, yMax: 35, yStep: 5, title: 'ROI E-field mag. dev. (%)',
  circle: fCircle, triangle: fTriangle, square: fSquare, star: fStar, down: fDown, median: fMedian, box: fBox, shape: fShape});
makePanel('cG', {...rightCol, ...row3, yMin: 0, yMax: 9, yStep: 1, title: 'ROI E-field dir. dev. (°)',
  circle: gCircle, triangle: gTriangle, square: gSquare, star: gStar, down: gDown, median: gMedian, box: gBox, shape: gShape});
</script>
</body>
</html>
